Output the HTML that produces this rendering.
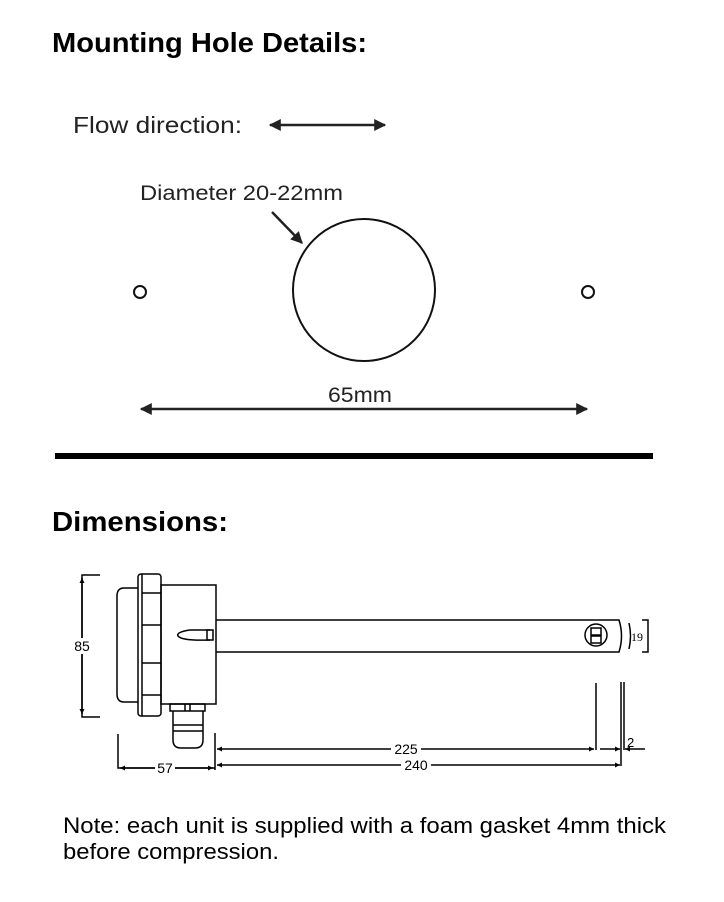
<!DOCTYPE html>
<html><head><style>
body{margin:0;background:#fff;width:724px;height:902px;overflow:hidden}
svg{display:block}
</style></head><body>
<svg width="724" height="902" viewBox="0 0 724 902" xmlns="http://www.w3.org/2000/svg" font-family="Liberation Sans, Arial, sans-serif">
<defs>
<marker id="ah" viewBox="0 0 10 10" refX="9" refY="5" markerWidth="16" markerHeight="12" markerUnits="userSpaceOnUse" orient="auto-start-reverse"><path d="M0,0 L10,5 L0,10 z" fill="#222"/></marker>
<marker id="sa" viewBox="0 0 10 10" refX="10" refY="5" markerWidth="8" markerHeight="5" markerUnits="userSpaceOnUse" orient="auto-start-reverse"><path d="M0,0 L10,5 L0,10 z" fill="#000"/></marker>
</defs>
<text x="52" y="52" font-size="28" font-weight="bold" fill="#000" textLength="315" lengthAdjust="spacingAndGlyphs">Mounting Hole Details:</text>
<text x="73" y="133" font-size="23" fill="#222" textLength="169" lengthAdjust="spacingAndGlyphs">Flow direction:</text>
<line x1="270" y1="125" x2="385" y2="125" stroke="#222" stroke-width="2.5" marker-start="url(#ah)" marker-end="url(#ah)"/>
<text x="140" y="200" font-size="21" fill="#222" textLength="203" lengthAdjust="spacingAndGlyphs">Diameter 20-22mm</text>
<line x1="272" y1="212" x2="302" y2="243" stroke="#222" stroke-width="2.5" marker-end="url(#ah)"/>
<circle cx="364" cy="290" r="71" fill="none" stroke="#111" stroke-width="2"/>
<circle cx="140" cy="292" r="6" fill="none" stroke="#111" stroke-width="2"/>
<circle cx="588" cy="292" r="6" fill="none" stroke="#111" stroke-width="2"/>
<text x="328" y="402" font-size="21" fill="#222" textLength="64" lengthAdjust="spacingAndGlyphs">65mm</text>
<line x1="141" y1="409" x2="587" y2="409" stroke="#222" stroke-width="2.5" marker-start="url(#ah)" marker-end="url(#ah)"/>
<rect x="55" y="453" width="598" height="6" fill="#000"/>
<text x="52" y="531" font-size="28" font-weight="bold" fill="#000" textLength="176" lengthAdjust="spacingAndGlyphs">Dimensions:</text>

<g stroke="#000" stroke-width="1.5" fill="none">
<path d="M100,575 H82 V717 H100"/>
<line x1="82" y1="578" x2="82" y2="714" marker-start="url(#sa)" marker-end="url(#sa)"/>
<path d="M138,588 H124 Q117,588 117,596 V694 Q117,702 124,702 H138"/>
<rect x="138" y="574" width="23" height="142" rx="3"/>
<line x1="142" y1="574" x2="142" y2="716"/>
<line x1="142" y1="593" x2="161" y2="593"/><line x1="142" y1="625" x2="161" y2="625"/>
<line x1="142" y1="663" x2="161" y2="663"/><line x1="142" y1="695" x2="161" y2="695"/>
<rect x="161" y="585" width="55" height="119"/>
<path d="M210,630 H190 Q176,632 178,636 Q182,641 210,640"/>
<rect x="207" y="630" width="6" height="10"/>
<rect x="170" y="704" width="35" height="7"/>
<line x1="185" y1="704" x2="185" y2="711"/><line x1="190" y1="704" x2="190" y2="711"/>
<path d="M173,711 V740 Q173,748 181,748 H195 Q203,748 203,740 V711"/>
<line x1="173" y1="725" x2="203" y2="725"/><line x1="173" y1="731" x2="203" y2="731"/>
<path d="M216,620 H619 Q624,636 619,652 H216"/>
<circle cx="596" cy="635" r="11"/>
<rect x="591" y="628" width="10" height="7"/><rect x="591" y="636" width="10" height="7"/>
<path d="M629,623 Q632,636 629,649"/>
<path d="M642,620 H648 V652 H642"/>
<path d="M118,734 V768 H215"/>
<line x1="215" y1="733" x2="215" y2="770"/>
<line x1="120" y1="768" x2="213" y2="768" marker-start="url(#sa)" marker-end="url(#sa)"/>
<line x1="217" y1="749" x2="594" y2="749" marker-start="url(#sa)" marker-end="url(#sa)"/>
<line x1="217" y1="765" x2="620" y2="765" marker-start="url(#sa)" marker-end="url(#sa)"/>
<line x1="596" y1="683" x2="596" y2="750"/>
<line x1="621" y1="682" x2="621" y2="766"/>
<line x1="624" y1="682" x2="624" y2="750"/>
<line x1="600" y1="749" x2="620" y2="749" marker-end="url(#sa)"/>
<line x1="645" y1="749" x2="625" y2="749" marker-end="url(#sa)"/>
</g>
<g font-size="14" fill="#000" font-family="Liberation Sans, sans-serif">
<rect x="69" y="638" width="26" height="16" fill="#fff"/>
<text x="82" y="651" text-anchor="middle">85</text>
<rect x="155" y="760" width="20" height="14" fill="#fff"/>
<text x="165" y="773" text-anchor="middle">57</text>
<rect x="391" y="741" width="30" height="14" fill="#fff"/>
<text x="406" y="754" text-anchor="middle">225</text>
<rect x="401" y="757" width="30" height="14" fill="#fff"/>
<text x="416" y="770" text-anchor="middle">240</text>
<text x="627" y="747" font-size="13">2</text>
<text x="631" y="641" font-size="12" font-family="Liberation Serif, serif">19</text>
</g>
<text x="63" y="833" font-size="22" fill="#000" textLength="603" lengthAdjust="spacingAndGlyphs">Note: each unit is supplied with a foam gasket 4mm thick</text>
<text x="63" y="859" font-size="22" fill="#000" textLength="216" lengthAdjust="spacingAndGlyphs">before compression.</text>
</svg>
</body></html>
